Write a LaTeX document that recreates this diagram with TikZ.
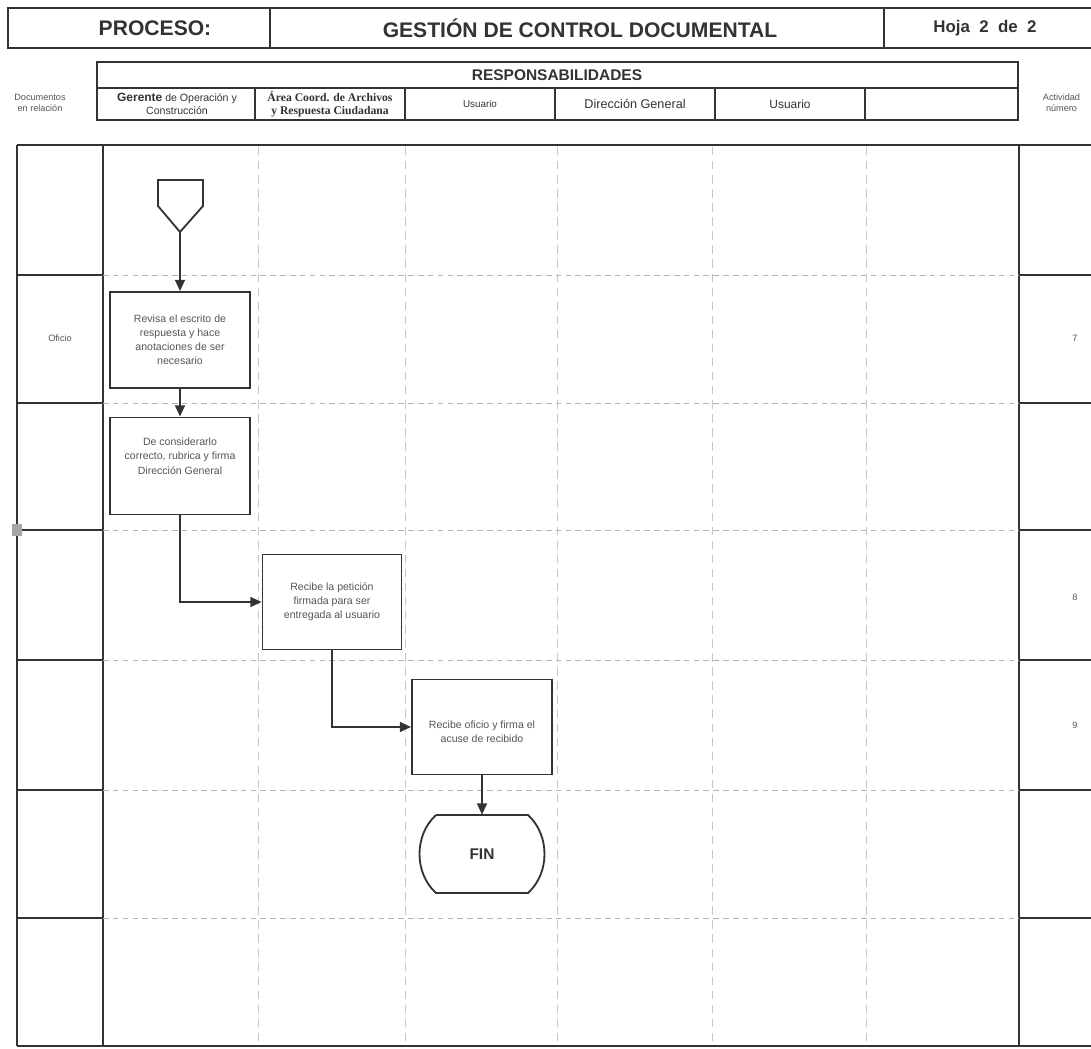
\documentclass[tikz,border=0pt]{standalone}
\usepackage{fontspec}
\setmainfont{Liberation Sans}
\newfontfamily\serifb{Liberation Serif}
\usetikzlibrary{arrows.meta}
\definecolor{ink}{HTML}{333333}
\definecolor{soft}{HTML}{555555}
\begin{document}
\begin{tikzpicture}[x=0.025cm,y=-0.025cm,
  frame/.style={draw=ink, line width=1.2pt},
  lane/.style={draw=black!30, line width=0.5pt, dash pattern=on 4pt off 3pt},
  lanev/.style={draw=black!22, line width=0.5pt, dash pattern=on 6pt off 4pt},
  actbox/.style={draw=ink, line width=1.3pt, fill=white, minimum width=3.5cm, minimum height=2.4cm, align=center, text=soft, font=\fontsize{7.5}{10}\selectfont, inner sep=2pt},
  flow/.style={draw=ink, line width=1.3pt, -{Triangle[length=8pt,width=7pt]}},
  titletxt/.style={text=ink, font=\bfseries\fontsize{15}{18}\selectfont},
  hdr/.style={text=ink, align=center},
  side/.style={text=soft, align=center, font=\fontsize{6.5}{8}\selectfont}
]
\useasboundingbox (0,0) rectangle (1091,1049);
\fill[white] (0,0) rectangle (1091,1049);

% title row
\draw[frame] (1100,8) -- (8,8) -- (8,48) -- (1100,48);
\draw[frame] (270,8) -- (270,48);
\draw[frame] (884,8) -- (884,48);
\node[titletxt] (proc) at (155,28) {PROCESO:};
\node[titletxt] (tit) at (580,28) {GESTIÓN DE CONTROL DOCUMENTAL};
\node[titletxt, font=\bfseries\fontsize{12}{14}\selectfont] (hoja) at (985,28) {Hoja\ \ 2\ \ de\ \ 2};

% responsibilities header
\draw[frame] (97,62) rectangle (1018,120);
\draw[frame] (97,88) -- (1018,88);
\foreach \x in {255,405,555,715,865} \draw[frame] (\x,88) -- (\x,120);
\node[hdr, font=\bfseries\fontsize{11}{13}\selectfont] (resp) at (557,75) {RESPONSABILIDADES};
\node[hdr, font=\fontsize{7.5}{9}\selectfont] (h1) at (177,104) {{\bfseries\fontsize{8.5}{9}\selectfont Gerente} de Operación y\\Construcción};
\node[hdr, font=\serifb\bfseries\fontsize{8.3}{9}\selectfont] (h2) at (330,104) {Área Coord. de Archivos\\y Respuesta Ciudadana};
\node[hdr, font=\fontsize{7}{9}\selectfont] (h3) at (480,104) {Usuario};
\node[hdr, font=\fontsize{9}{10}\selectfont] (h4) at (635,104) {Dirección General};
\node[hdr, font=\fontsize{8.5}{10}\selectfont] (h5) at (790,104) {Usuario};
\node[side] (docs) at (40,103) {Documentos\\en relación};
\node[side, anchor=west] (act) at (1038,103) {Actividad\\número};

% grid
\draw[frame] (17,145) -- (1100,145);
\draw[frame] (17,145) -- (17,1046);
\draw[frame] (103,145) -- (103,1046);
\draw[frame] (1019,145) -- (1019,1046);
\draw[frame] (17,1046) -- (1100,1046);
\foreach \y in {275,403,530,660,790,918} {
  \draw[frame] (17,\y) -- (103,\y);
  \draw[frame] (1019,\y) -- (1100,\y);
  \draw[lane] (103,\y) -- (1019,\y);
}
\foreach \x in {258,405,557,712,866} \draw[lanev] (\x,147) -- (\x,1044);
\fill[black!35] (12,524) rectangle (22,536);

\node[side] (of) at (60,338) {Oficio};
\node[side] (n7) at (1075,338) {7};
\node[side] (n8) at (1075,597) {8};
\node[side] (n9) at (1075,725) {9};

% start off-page connector
\draw[frame, line width=1.3pt] (158,180) -- (203,180) -- (203,206) -- (180,232) -- (158,206) -- cycle;
\coordinate (starttip) at (180,232);

% activities
\node[actbox] (b1) at (180,340) {Revisa el escrito de\\respuesta y hace\\anotaciones de ser\\necesario};
\node[actbox, minimum height=2.425cm] (b2) at (180,466) {De considerarlo\\correcto, rubrica y firma\\Dirección General\\[4pt]};
\node[actbox, minimum width=3.475cm, minimum height=2.375cm] (b3) at (332,602) {Recibe la petición\\firmada para ser\\entregada al usuario};
\node[actbox, minimum height=2.375cm] (b4) at (482,727) {\\[2pt]Recibe oficio y firma el\\acuse de recibido};

% FIN terminator
\node[minimum width=3cm, minimum height=1.95cm, font=\bfseries\fontsize{11}{13}\selectfont, text=ink] (fin) at (482,854) {FIN};
\draw[frame, line width=1.3pt] (436,815) -- (528,815) .. controls (550,835) and (550,873) .. (528,893) -- (436,893) .. controls (414,873) and (414,835) .. (436,815);

% connectors
\draw[flow] (starttip) -- (b1);
\draw[flow] (b1) -- (b2);
\draw[flow] (b2.south) |- (b3.west);
\draw[flow] (b3.south) |- (b4.west);
\draw[flow] (b4) -- (fin);
\end{tikzpicture}
\end{document}
